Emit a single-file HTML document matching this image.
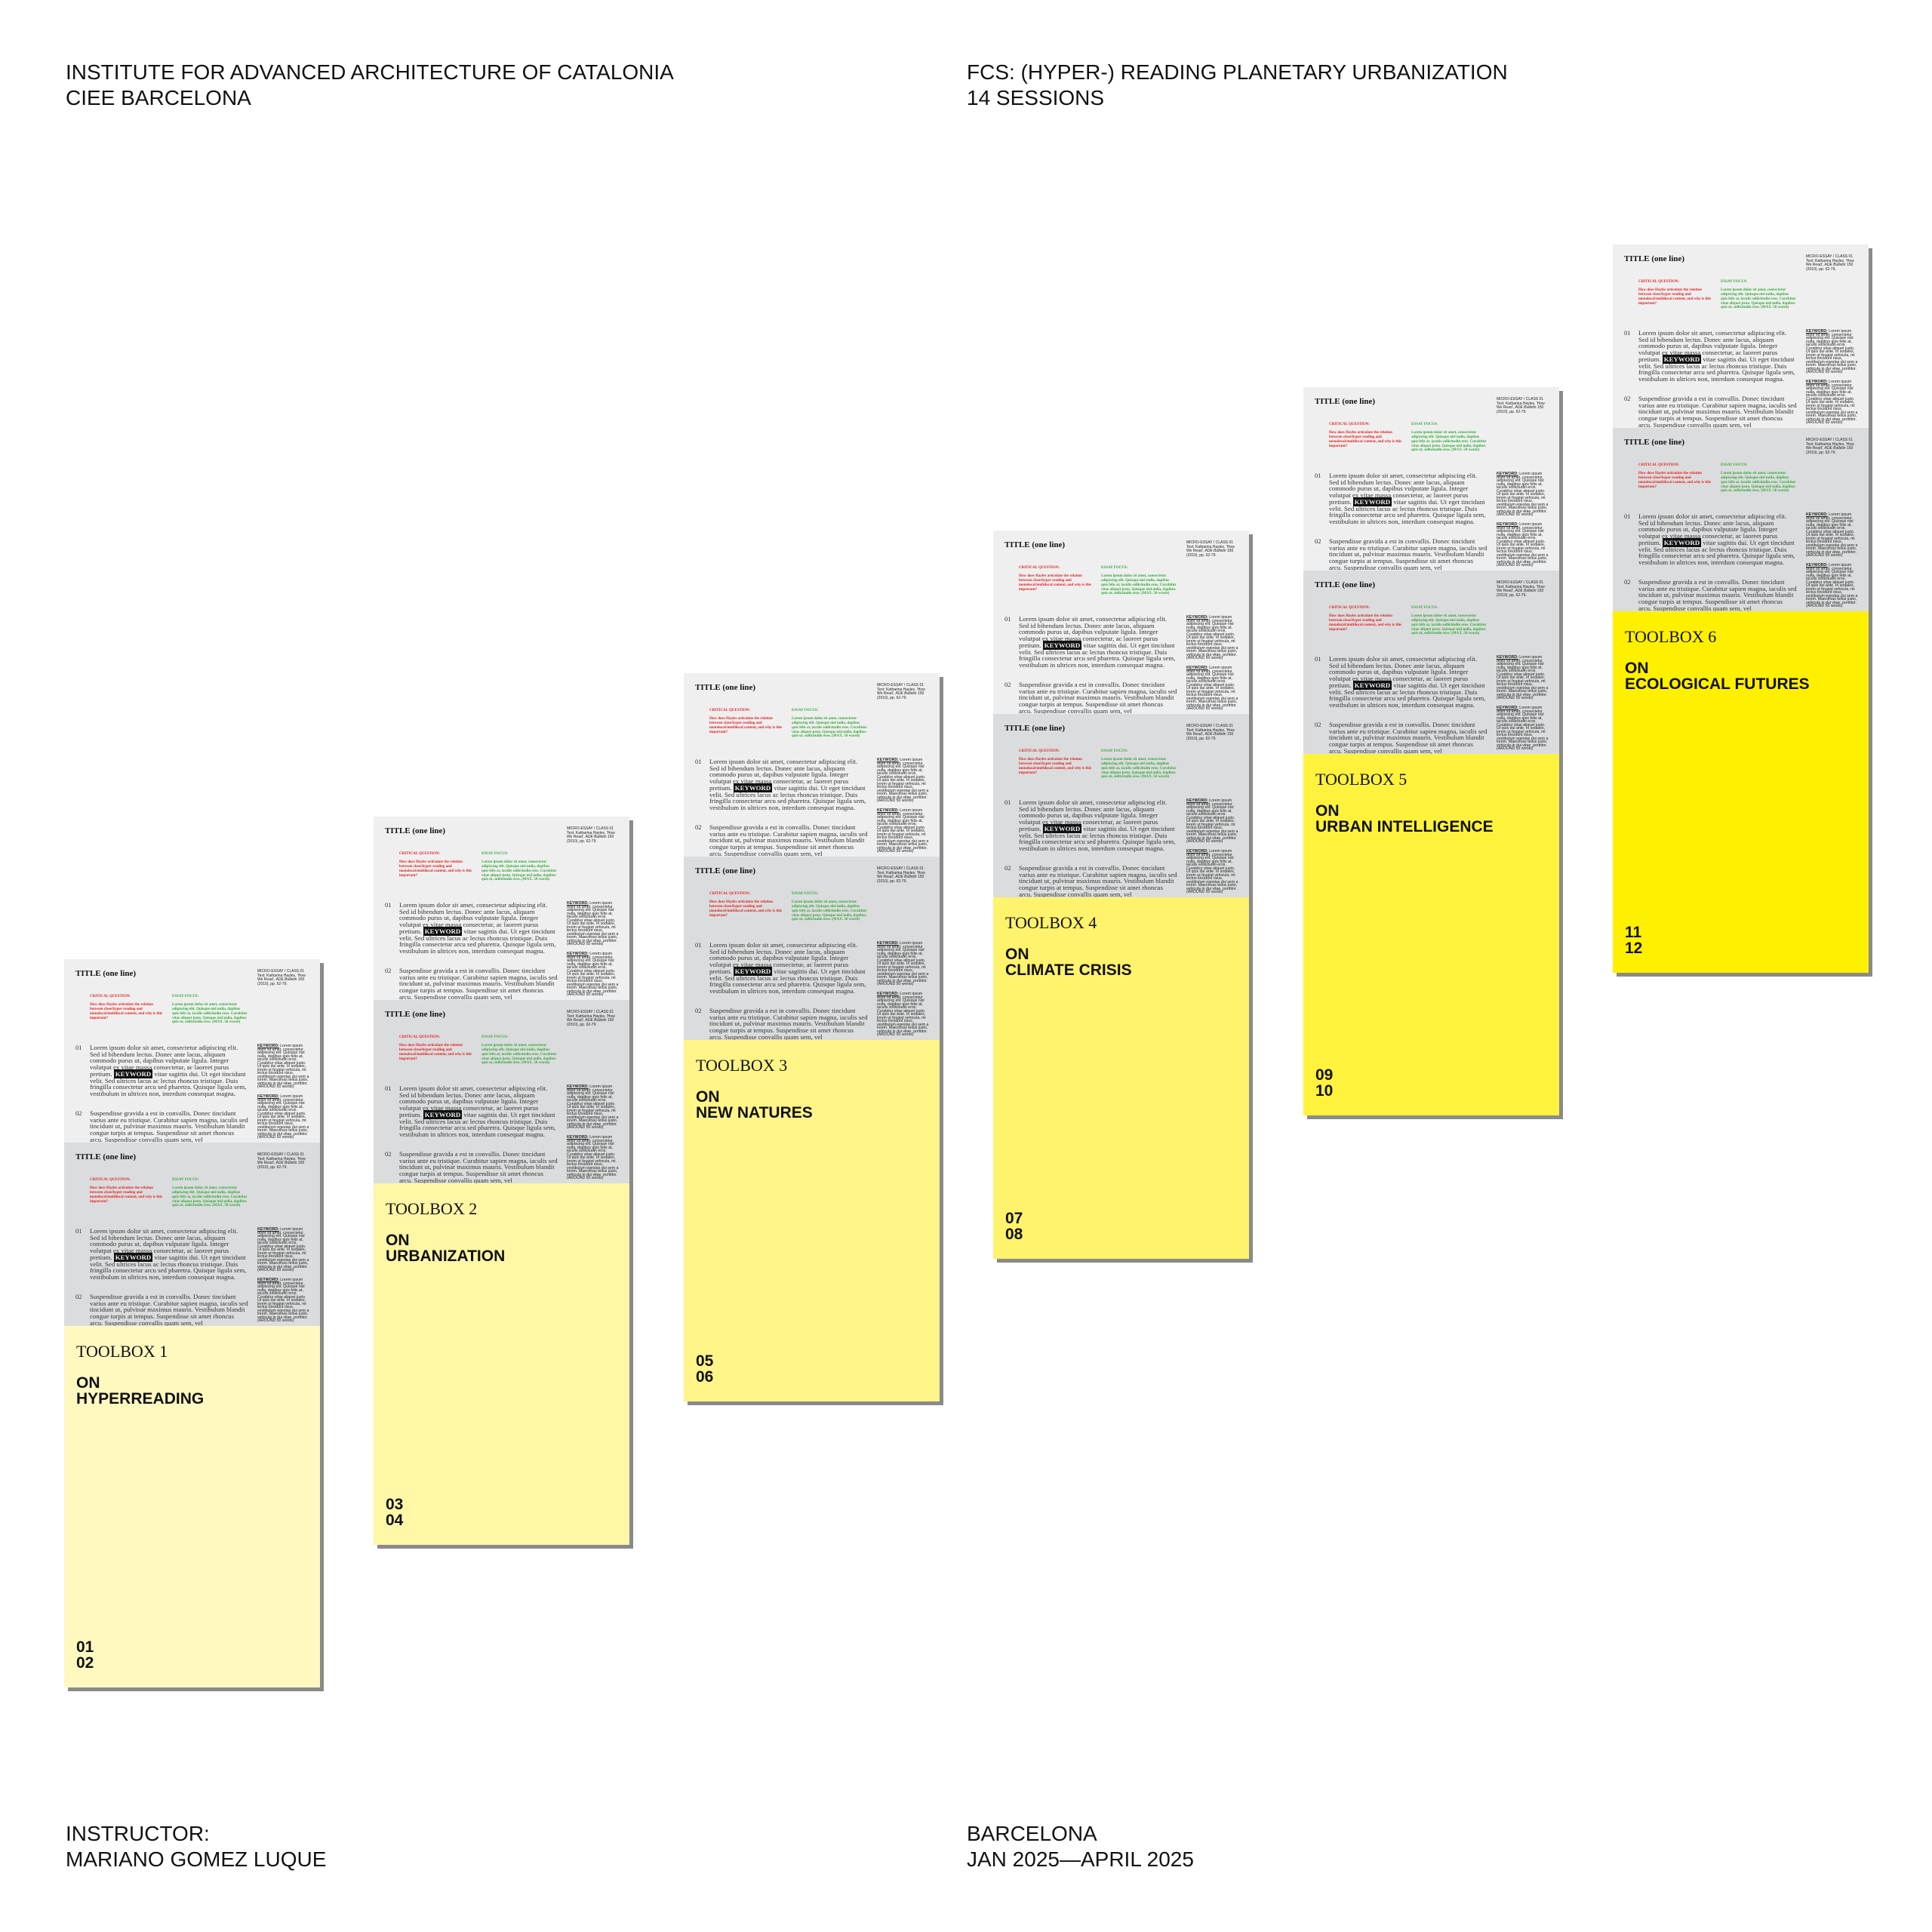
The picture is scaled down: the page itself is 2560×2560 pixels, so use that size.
<!DOCTYPE html>
<html><head><meta charset="utf-8">
<style>
*{margin:0;padding:0;box-sizing:border-box}
body{width:2560px;height:2560px;background:#fff;position:relative;overflow:hidden;font-family:"Liberation Sans",sans-serif;color:#111}
.hd{position:absolute;font-size:28px;line-height:34px;color:#111;white-space:nowrap}
.card{position:absolute;width:339px;height:965px;box-shadow:5px 5px 0 #8a8a8a}
.sec{position:absolute;left:0;width:339px;height:243px;overflow:hidden}
.s1{top:0;background:#efefef}
.s2{top:243px;height:243px;background:#dbdcdd}
.t{position:absolute;left:15px;top:13px;font:bold 11px/13px "Liberation Serif",serif}
.meta{position:absolute;left:256px;top:14px;width:72px;font:5px/5.6px "Liberation Sans",sans-serif;color:#222}
.cq{position:absolute;left:34px;top:47px;width:100px;font:bold 5px/5.7px "Liberation Serif",serif;color:#e12222}
.ef{position:absolute;left:143px;top:47px;width:100px;font:bold 5px/5.7px "Liberation Serif",serif;color:#35a83a}
.num{position:absolute;left:15px;font:8.6px/8.7px "Liberation Serif",serif;color:#333}
.body{position:absolute;left:34px;width:210px;font:8.8px/8.7px "Liberation Serif",serif;color:#333}
.kw{border:1px solid #111;background:#111;color:#eee;font-weight:bold;padding:0 1px}
.side{position:absolute;left:256px;width:70px;font:5.2px/4.5px "Liberation Sans",sans-serif;color:#222}
.side b{text-decoration:underline}
.yel{position:absolute;left:0;top:486px;width:339px;height:479px}
.tb{position:absolute;left:16px;top:21px;font:22px/26px "Liberation Serif",serif;color:#111;white-space:nowrap}
.on{position:absolute;left:16px;top:65px;font:bold 21px/21px "Liberation Sans",sans-serif;color:#111;white-space:nowrap}
.nn{position:absolute;left:16px;bottom:22px;font:bold 21px/21px "Liberation Sans",sans-serif;color:#111}
</style></head><body>

<div class="hd" style="left:87px;top:79px">INSTITUTE FOR ADVANCED ARCHITECTURE OF CATALONIA<br>CIEE BARCELONA</div>
<div class="hd" style="left:1281px;top:79px">FCS: (HYPER-) READING PLANETARY URBANIZATION<br>14 SESSIONS</div>
<div class="hd" style="left:87px;top:2413px">INSTRUCTOR:<br>MARIANO GOMEZ LUQUE</div>
<div class="hd" style="left:1281px;top:2413px">BARCELONA<br>JAN 2025—APRIL 2025</div>

<div id="cards"></div>

<script>
var secHTML='<div class="t">TITLE (one line)</div>'+
'<div class="meta">MICRO-ESSAY / CLASS 01<br>Text: Katharina Hayles, \'How We Read\', <i>ADE Bulletin</i> 150 (2010), pp. 62-79.</div>'+
'<div class="cq">CRITICAL QUESTION:<br><br>How does Hayles articulate the relation between close/hyper reading and monolocal/multilocal content, and why is this important?</div>'+
'<div class="ef">ESSAY FOCUS:<br><br>Lorem ipsum dolor sit amet, consectetur adipiscing elit. Quisque nisl nulla, dapibus quis felis at, iaculis sollicitudin eros. Curabitur vitae aliquet justo. Quisque nisl nulla, dapibus quis ut, sollicitudin eros. (MAX. 50 words)</div>'+
'<div class="num" style="top:113px">01</div>'+
'<div class="body" style="top:113px">Lorem ipsum dolor sit amet, consectetur adipiscing elit. Sed id bibendum lectus. Donec ante lacus, aliquam commodo purus ut, dapibus vulputate ligula. Integer volutpat ex vitae massa consectetur, ac laoreet purus pretium. <span class="kw">KEYWORD</span> vitae sagittis dui. Ut eget tincidunt velit. Sed ultrices lacus ac lectus rhoncus tristique. Duis fringilla consectetur arcu sed pharetra. Quisque ligula sem, vestibulum in ultrices non, interdum consequat magna.</div>'+
'<div class="num" style="top:200px">02</div>'+
'<div class="body" style="top:200px">Suspendisse gravida a est in convallis. Donec tincidunt varius ante eu tristique. Curabitur sapien magna, iaculis sed tincidunt ut, pulvinar maximus mauris. Vestibulum blandit congue turpis at tempus. Suspendisse sit amet rhoncus arcu. Suspendisse convallis quam sem, vel</div>'+
'<div class="side" style="top:113px"><b>KEYWORD:</b> Lorem ipsum dolor sit amet, consectetur adipiscing elit. Quisque nisl nulla, dapibus quis felis at, iaculis sollicitudin eros. Curabitur vitae aliquet justo. Ut quis dui ante. In sodales, lorem ut feugiat vehicula, mi lectus tincidunt risus, vestibulum egestas dui sem a lorem. Maecenas tellus justo, vehicula in dui vitae, porttitor. (AROUND 50 words)</div>'+
'<div class="side" style="top:180px"><b>KEYWORD:</b> Lorem ipsum dolor sit amet, consectetur adipiscing elit. Quisque nisl nulla, dapibus quis felis at, iaculis sollicitudin eros. Curabitur vitae aliquet justo. Ut quis dui ante. In sodales, lorem ut feugiat vehicula, mi lectus tincidunt risus, vestibulum egestas dui sem a lorem. Maecenas tellus justo, vehicula in dui vitae, porttitor. (AROUND 50 words)</div>';
var data=[
["1","HYPERREADING","01","02","#fff9c0"],
["2","URBANIZATION","03","04","#fff6a6"],
["3","NEW NATURES","05","06","#fff488"],
["4","CLIMATE CRISIS","07","08","#fff26c"],
["5","URBAN INTELLIGENCE","09","10","#fff23c"],
["6","ECOLOGICAL FUTURES","11","12","#fff000"]];
var h='';
for(var i=0;i<6;i++){
 var d=data[i];
 var x=85+410.4*i, y=1271-189.4*i;
 h+='<div class="card" style="left:'+x.toFixed(0)+'px;top:'+y.toFixed(0)+'px">'+
 '<div class="sec s1">'+secHTML+'</div><div class="sec s2">'+secHTML+'</div>'+
 '<div class="yel" style="background:'+d[4]+'"><div class="tb">TOOLBOX '+d[0]+'</div>'+
 '<div class="on">ON<br>'+d[1]+'</div><div class="nn">'+d[2]+'<br>'+d[3]+'</div></div></div>';
}
document.getElementById('cards').innerHTML=h;
</script>
</body></html>
